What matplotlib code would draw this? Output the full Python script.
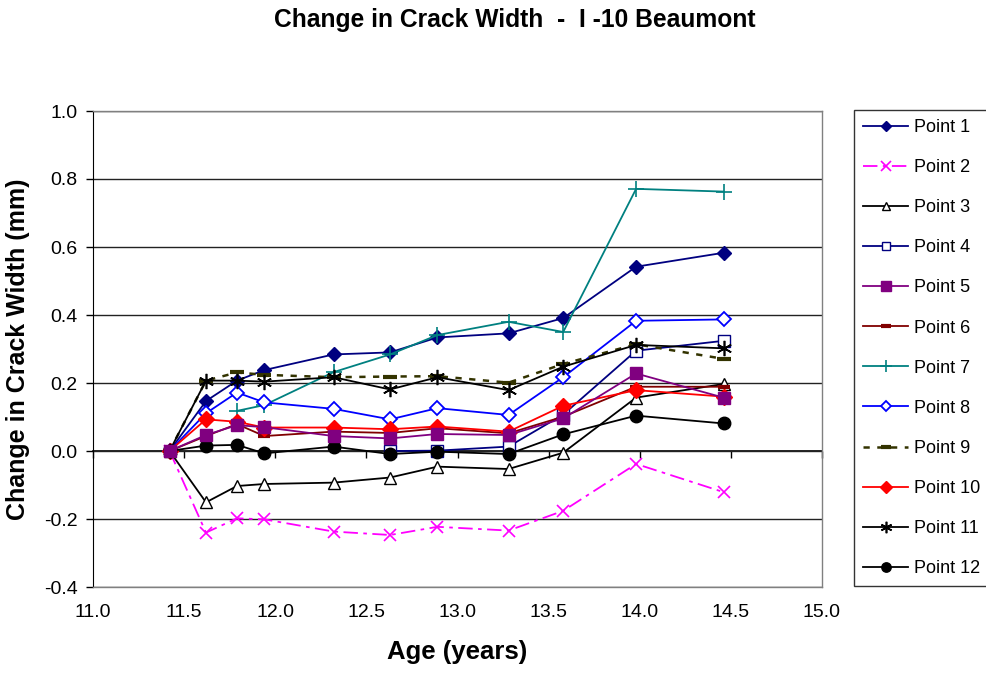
import numpy as np
import matplotlib
matplotlib.use('Agg')
import matplotlib.pyplot as plt

plt.rcParams['font.family'] = ['Liberation Sans', 'DejaVu Sans']

# age at each reading (years)
age = [11.42, 11.62, 11.79, 11.94, 12.32, 12.63, 12.89, 13.28, 13.58, 13.98, 14.46]
nan = np.nan

# change in crack width (mm) per gauge point
p1 = [0, 0.147, 0.207, 0.238, 0.284, 0.290, 0.334, 0.346, 0.391, 0.542, 0.583]
p2 = [0, -0.240, -0.198, -0.201, -0.237, -0.247, -0.223, -0.234, -0.176, -0.038, -0.121]
p3 = [0, -0.151, -0.103, -0.097, -0.093, -0.078, -0.046, -0.053, -0.005, 0.157, 0.197]
p4 = [nan, nan, nan, nan, nan, 0.0, 0.001, 0.013, 0.107, 0.295, 0.324]
p5 = [0, 0.047, 0.076, 0.070, 0.044, 0.037, 0.050, 0.047, 0.096, 0.228, 0.157]
p6 = [0, 0.044, 0.079, 0.044, 0.057, 0.053, 0.067, 0.052, 0.101, 0.189, 0.189]
p7 = [nan, nan, 0.118, 0.135, 0.232, 0.284, 0.341, 0.380, 0.350, 0.771, 0.763]
p8 = [0, 0.111, 0.172, 0.143, 0.124, 0.093, 0.126, 0.106, 0.217, 0.383, 0.387]
p9 = [0, 0.207, 0.231, 0.224, 0.217, 0.219, 0.220, 0.201, 0.256, 0.314, 0.271]
p10 = [0, 0.093, 0.086, 0.069, 0.069, 0.064, 0.072, 0.057, 0.133, 0.179, 0.160]
p11 = [0, 0.207, 0.207, 0.204, 0.217, 0.181, 0.217, 0.179, 0.248, 0.312, 0.302]
p12 = [0, 0.016, 0.018, -0.007, 0.013, -0.009, -0.002, -0.009, 0.049, 0.104, 0.081]

labels = ['Point %d' % i for i in range(1, 13)]
series = [p1, p2, p3, p4, p5, p6, p7, p8, p9, p10, p11, p12]

asterisk = (6, 2, 0)
styles = [
    dict(color='#000080', ls='-', marker='D', ms=7, mfc='#000080'),
    dict(color='#FF00FF', ls=(0, (8, 3, 2, 3)), marker='x', ms=9, mew=1.2),
    dict(color='black', ls='-', marker='^', ms=8, mfc='white'),
    dict(color='#000080', ls='-', marker='s', ms=8, mfc='white'),
    dict(color='#800080', ls='-', marker='s', ms=9, mfc='#800080'),
    dict(color='#800000', ls='-', marker='_', ms=9, mew=3),
    dict(color='#008080', ls='-', marker='+', ms=11, mew=1.2),
    dict(color='#0000FF', ls='-', marker='D', ms=7, mfc='white', mew=1.3),
    dict(color='#333300', ls=(0, (2.5, 3)), marker='_', ms=10, mew=3, lw=1.8),
    dict(color='#FF0000', ls='-', marker='D', ms=8, mfc='#FF0000'),
    dict(color='black', ls='-', marker=asterisk, ms=11, mew=1.2),
    dict(color='black', ls='-', marker='o', ms=9, mfc='black'),
]

fig = plt.figure(figsize=(9.87, 6.78), dpi=100)
ax = fig.add_axes([93 / 987, 1 - 587 / 678, (822 - 93) / 987, (587 - 111) / 678])

handles = []
for i, (y, lab, st) in enumerate(zip(series, labels, styles)):
    st = dict(st)
    st.setdefault('lw', 1.3)
    z = 4 if i == 4 else 3
    h, = ax.plot(age, y, label=lab, zorder=z, **st)
    handles.append(h)

ax.set_xlim(11.0, 15.0)
ax.set_ylim(-0.4, 1.0)
ax.set_xticks(np.arange(11.0, 15.01, 0.5))
ax.set_yticks(np.arange(-0.4, 1.01, 0.2))
ax.set_xticklabels(['%.1f' % v for v in np.arange(11.0, 15.01, 0.5)])
ax.set_yticklabels(['%.1f' % v if abs(v) > 1e-9 else '0.0' for v in np.arange(-0.4, 1.01, 0.2)])
ax.tick_params(axis='x', length=0, labelsize=14, pad=12)
ax.tick_params(axis='y', length=5, width=1, direction='out', labelsize=14, pad=6)

ax.grid(axis='y', color='#222222', lw=1)
ax.set_axisbelow(True)
for side in ['top', 'right', 'bottom']:
    ax.spines[side].set_color('#808080')
    ax.spines[side].set_linewidth(1)
ax.spines['left'].set_color('black')

# category axis crosses at zero
zero_ax = ax.secondary_xaxis(0.4 / 1.4)
zero_ax.set_xticks(np.arange(11.0, 15.01, 0.5))
zero_ax.tick_params(axis='x', length=5, width=1, direction='out', labelbottom=False)
zero_ax.spines['bottom'].set_color('black')
zero_ax.spines['bottom'].set_linewidth(1.2)

ax.set_xlabel('Age (years)', fontsize=18.5, fontweight='bold', labelpad=14)
ax.set_ylabel('Change in Crack Width (mm)', fontsize=18, fontweight='bold', labelpad=10)
fig.text(515 / 987, 1 - 20 / 678, 'Change in Crack Width  -  I -10 Beaumont',
         ha='center', va='center', fontsize=17.7, fontweight='bold')

leg = fig.legend(handles=handles, loc='upper left',
                 bbox_to_anchor=(854 / 987, 1 - 110 / 678),
                 fontsize=13, frameon=True, fancybox=False,
                 edgecolor='black', handlelength=2.5, handletextpad=0.3,
                 labelspacing=1.28, borderpad=0.5, borderaxespad=0)
leg.get_frame().set_linewidth(1)
for lh in leg.legend_handles:
    lh.set_markersize(lh.get_markersize() * 0.75)

fig.savefig('out.png', dpi=100)
